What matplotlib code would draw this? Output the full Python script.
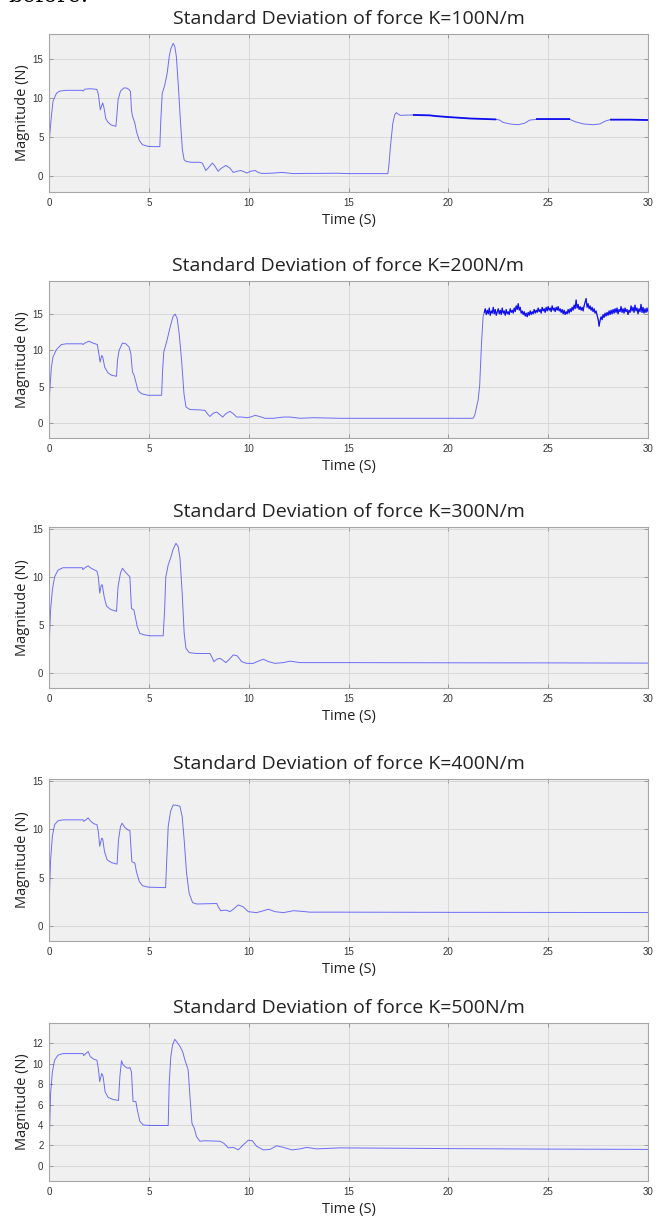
import numpy as np
import matplotlib
matplotlib.use("Agg")
import matplotlib.pyplot as plt

# --- K=100N/m ---
t_k100 = [0, 0.03, 0.12, 0.2, 0.37, 0.53, 0.87, 1.67, 1.7, 1.8, 2.05, 2.3, 2.4, 2.47, 2.57, 2.62,
          2.69, 2.76, 2.84, 2.96, 3.13, 3.35, 3.38, 3.46, 3.58, 3.75, 3.88, 4.01, 4.08, 4.13, 4.18,
          4.3, 4.38, 4.52, 4.68, 4.97, 5.3, 5.55, 5.6, 5.67, 5.8, 5.92, 6.02, 6.1, 6.22, 6.3, 6.38,
          6.48, 6.58, 6.68, 6.77, 6.88, 7.13, 7.55, 7.68, 7.85, 7.97, 8.18, 8.3, 8.47, 8.64, 8.86,
          9.06, 9.23, 9.43, 9.6, 9.76, 9.9, 10.1, 10.32, 10.48, 10.65, 10.9, 11.23, 11.65, 11.9,
          12.23, 12.9, 13.57, 14.4, 15.0, 16.97, 17.02, 17.1, 17.22, 17.32, 17.39, 17.47, 17.59,
          18.23, 19.06, 19.4, 20.07, 21.07, 22.4, 22.57, 22.74, 23.08, 23.49, 23.83, 24.08, 24.41,
          26.09, 26.34, 26.76, 27.26, 27.59, 27.84, 28.1, 29.1, 30.0]
f_k100 = [0, 5.1, 7.7, 9.6, 10.6, 10.9, 11.0, 11.0, 10.9, 11.15, 11.2, 11.15, 11.1, 10.5, 8.5, 8.9,
          9.4, 8.7, 7.4, 6.9, 6.55, 6.4, 7.2, 9.8, 10.9, 11.3, 11.3, 11.1, 10.85, 8.5, 7.7,
          6.8, 5.75, 4.6, 4.05, 3.83, 3.8, 3.8, 7.2, 10.6, 11.7, 13.2, 15.3, 16.3, 17.0, 16.6, 15.3,
          11.5, 7.2, 3.4, 2.1, 1.9, 1.8, 1.8, 1.7, 0.75, 1.05, 1.7, 1.35, 0.65, 1.05, 1.4,
          1.05, 0.5, 0.65, 0.75, 0.6, 0.42, 0.65, 0.75, 0.5, 0.38, 0.38, 0.42, 0.5, 0.45,
          0.35, 0.38, 0.38, 0.4, 0.35, 0.35, 1.3, 3.8, 6.8, 7.9, 8.15, 8.0, 7.8,
          7.85, 7.8, 7.7, 7.57, 7.4, 7.28, 7.2, 6.9, 6.7, 6.6, 6.8, 7.2, 7.28,
          7.28, 7.0, 6.7, 6.6, 6.7, 7.05, 7.25, 7.25, 7.2]
dense_k100 = [(17.6, 22.5), (24.2, 26.1), (28.0, 30.0)]

# --- K=200N/m ---
t_k200 = [0, 0.03, 0.12, 0.2, 0.37, 0.62, 0.87, 1.67, 1.7, 1.8, 2.0, 2.2, 2.42, 2.47, 2.56, 2.64,
          2.69, 2.79, 2.96, 3.13, 3.38, 3.43, 3.51, 3.68, 3.85, 4.01, 4.1, 4.18, 4.26, 4.35, 4.46,
          4.63, 4.97, 5.64, 5.69, 5.75, 5.89, 5.97, 6.09, 6.22, 6.32, 6.42, 6.52, 6.64, 6.76, 6.86,
          7.06, 7.56, 7.81, 7.93, 8.06, 8.23, 8.4, 8.53, 8.7, 8.86, 9.06, 9.23, 9.4, 9.65, 9.9,
          10.1, 10.32, 10.48, 10.82, 11.24, 11.74, 12.07, 12.58, 13.24, 14.58, 21.24, 21.32,
          21.49, 21.57, 21.66, 21.74]
f_k200 = [0, 4.1, 7.7, 9.1, 10.1, 10.8, 10.9, 10.9, 10.8, 11.0, 11.25, 11.0, 10.8, 10.0, 8.4, 9.3,
          9.1, 7.7, 6.9, 6.6, 6.45, 8.65, 10.0, 11.0, 10.9, 10.45, 9.55, 7.05, 6.6, 5.65, 4.5,
          4.07, 3.85, 3.85, 7.3, 9.8, 11.15, 12.05, 13.45, 14.7, 14.95, 14.35, 12.3, 8.65, 4.05, 2.25,
          1.9, 1.85, 1.78, 1.33, 0.95, 1.4, 1.55, 1.25, 0.87, 1.33, 1.65, 1.33, 0.87, 0.87, 0.78,
          0.87, 1.1, 1.0, 0.7, 0.7, 0.87, 0.87, 0.7, 0.78, 0.7, 0.7, 1.1,
          3.15, 5.2, 10.9, 14.6]
# noisy plateau after the jump (one reading every 0.05 s from 21.8 s)
noise_t0, noise_dt = 21.8, 0.05
noise_k200 = [15.2, 15.7, 14.9, 15.5, 15.0, 15.8, 14.8, 15.4, 15.1, 15.9,
              15.0, 15.6, 14.8, 15.3, 15.7, 15.0, 15.5, 14.9, 15.8, 15.1,
              15.4, 14.8, 15.6, 15.0, 15.3, 14.9, 15.7, 15.2, 15.5, 15.1,
              15.8, 15.3, 16.1, 15.6, 16.4, 15.5, 15.9, 15.1, 15.4, 14.9,
              15.3, 14.7, 15.1, 14.6, 15.2, 14.8, 15.4, 14.9, 15.3, 15.0,
              15.6, 15.1, 15.5, 15.2, 15.8, 15.3, 15.6, 15.1, 15.9, 15.4,
              15.7, 15.2, 15.9, 15.4, 16.0, 15.5, 15.8, 15.3, 16.1, 15.5,
              15.8, 15.3, 15.9, 15.5, 16.0, 15.4, 15.7, 15.2, 15.6, 15.0,
              15.5, 14.9, 15.3, 15.0, 15.6, 15.1, 15.7, 15.3, 15.9, 15.5,
              16.2, 15.7, 16.9, 15.8, 16.3, 15.6, 16.0, 15.5, 15.9, 15.4,
              16.1, 16.6, 17.1, 15.9, 16.4, 15.7, 16.1, 15.5, 15.9, 15.3,
              15.7, 15.1, 15.4, 14.8, 14.3, 13.3, 14.1, 14.6, 14.2, 14.9,
              14.5, 15.1, 14.7, 15.2, 14.8, 15.4, 14.9, 15.5, 15.0, 15.6,
              15.1, 15.7, 15.2, 15.8, 15.0, 15.6, 15.3, 16.0, 15.2, 15.7,
              15.1, 15.8, 15.3, 15.6, 14.9, 15.5, 15.2, 16.1, 15.4, 15.9,
              15.2, 16.2, 15.4, 15.8, 15.0, 15.7, 15.3, 16.3, 15.2, 15.9,
              15.1, 15.7, 15.2, 15.8, 15.3]

# --- K=300N/m ---
t_k300 = [0, 0.03, 0.08, 0.17, 0.28, 0.45, 0.7, 1.67, 1.7, 1.8, 1.96, 2.07, 2.2, 2.4, 2.47, 2.54,
          2.62, 2.67, 2.76, 2.88, 3.08, 3.38, 3.46, 3.58, 3.68, 3.8, 3.96, 4.05, 4.13, 4.25, 4.32,
          4.42, 4.55, 4.75, 5.05, 5.72, 5.79, 5.85, 5.97, 6.09, 6.22, 6.36, 6.47, 6.56, 6.67, 6.77,
          6.86, 7.02, 7.39, 8.06, 8.15, 8.26, 8.4, 8.56, 8.7, 8.86, 9.03, 9.23, 9.43, 9.65, 9.9,
          10.23, 10.48, 10.74, 10.99, 11.32, 11.74, 12.07, 12.58, 13.24, 14.58, 20.0, 25.0, 30.0]
f_k300 = [0, 4.1, 6.55, 8.65, 10.0, 10.7, 10.95, 10.95, 10.75, 10.95, 11.15, 10.95, 10.8, 10.6, 10.0, 8.3,
          9.15, 9.15, 7.95, 6.95, 6.6, 6.4, 9.0, 10.4, 10.9, 10.55, 10.2, 10.0, 6.7, 6.55, 5.85,
          4.8, 4.1, 3.95, 3.85, 3.85, 6.55, 10.0, 11.25, 11.95, 12.9, 13.5, 13.15, 11.95, 8.3, 4.1,
          2.55, 2.1, 2.0, 2.0, 1.65, 1.15, 1.4, 1.5, 1.3, 1.05, 1.4, 1.85, 1.75, 1.15, 0.97,
          0.97, 1.2, 1.4, 1.15, 0.97, 1.05, 1.2, 1.05, 1.05, 1.05, 1.03, 1.02, 1.0]

# --- K=400N/m ---
t_k400 = [0, 0.03, 0.08, 0.17, 0.28, 0.45, 0.7, 1.7, 1.74, 1.84, 1.96, 2.07, 2.24, 2.4, 2.47, 2.54,
          2.64, 2.69, 2.78, 2.91, 3.13, 3.41, 3.48, 3.58, 3.66, 3.8, 3.96, 4.05, 4.15, 4.3, 4.38,
          4.52, 4.68, 4.97, 5.84, 5.89, 5.97, 6.09, 6.22, 6.42, 6.56, 6.67, 6.77, 6.89, 7.02, 7.19,
          7.39, 8.4, 8.48, 8.6, 8.76, 8.9, 9.06, 9.23, 9.48, 9.73, 9.98, 10.4, 10.74, 10.99, 11.32,
          11.74, 12.24, 12.58, 13.08, 13.74, 14.58, 20.0, 25.0, 30.0]
f_k400 = [0, 3.7, 6.85, 9.3, 10.5, 10.9, 11.0, 11.0, 10.85, 11.0, 11.2, 10.9, 10.6, 10.5, 9.8, 8.25,
          9.1, 9.0, 7.7, 6.85, 6.55, 6.4, 8.9, 10.3, 10.65, 10.2, 9.95, 9.9, 6.65, 6.5, 5.6,
          4.6, 4.15, 4.0, 3.95, 6.5, 10.3, 11.9, 12.55, 12.5, 12.4, 11.35, 8.9, 5.45, 3.35, 2.4,
          2.25, 2.3, 1.95, 1.55, 1.6, 1.6, 1.45, 1.7, 2.15, 1.95, 1.45, 1.35, 1.55, 1.7, 1.45,
          1.35, 1.55, 1.5, 1.4, 1.4, 1.4, 1.38, 1.37, 1.36]

# --- K=500N/m ---
t_k500 = [0, 0.03, 0.08, 0.17, 0.28, 0.45, 0.7, 1.7, 1.74, 1.84, 1.96, 2.07, 2.24, 2.4, 2.47, 2.54,
          2.64, 2.71, 2.81, 2.96, 3.21, 3.48, 3.55, 3.63, 3.71, 3.85, 3.96, 4.05, 4.13, 4.21, 4.35,
          4.42, 4.55, 4.72, 5.05, 5.97, 6.02, 6.1, 6.19, 6.3, 6.42, 6.56, 6.69, 6.81, 6.89, 6.97,
          7.06, 7.16, 7.27, 7.39, 7.56, 7.81, 8.56, 8.76, 8.98, 9.23, 9.48, 9.73, 9.98, 10.18, 10.4,
          10.74, 11.07, 11.4, 11.74, 12.16, 12.58, 12.91, 13.41, 13.99, 14.58, 20.0, 25.0, 30.0]
f_k500 = [0, 3.5, 7.1, 9.2, 10.35, 10.85, 11.0, 11.0, 10.8, 11.0, 11.2, 10.7, 10.45, 10.35, 9.55, 8.25,
          9.05, 8.75, 7.25, 6.7, 6.5, 6.4, 8.75, 10.3, 9.9, 9.65, 9.55, 9.65, 9.2, 6.3, 6.3,
          5.5, 4.35, 4.0, 3.95, 3.95, 8.1, 10.7, 11.85, 12.4, 12.1, 11.7, 11.2, 10.35, 9.9, 9.4,
          6.8, 4.15, 3.7, 2.85, 2.4, 2.45, 2.4, 2.2, 1.75, 1.8, 1.55, 2.05, 2.5, 2.45, 1.9,
          1.55, 1.6, 1.95, 1.8, 1.55, 1.65, 1.8, 1.65, 1.7, 1.75, 1.68, 1.63, 1.6]

titles = ["Standard Deviation of force K=100N/m", "Standard Deviation of force K=200N/m",
          "Standard Deviation of force K=300N/m", "Standard Deviation of force K=400N/m",
          "Standard Deviation of force K=500N/m"]

# noisy part of K=200 joined to the smooth part
t_noise = noise_t0 + noise_dt * np.arange(len(noise_k200))
t200_all = np.concatenate([t_k200, t_noise])
f200_all = np.concatenate([f_k200, noise_k200])

series = [(t_k100, f_k100), (t200_all, f200_all), (t_k300, f_k300), (t_k400, f_k400), (t_k500, f_k500)]
ylims = [(-2, 18.2), (-2, 19.5), (-1.6, 15.2), (-1.6, 15.25), (-1.5, 14)]
yticks = [[0, 5, 10, 15]] * 4 + [[0, 2, 4, 6, 8, 10, 12]]

# axes boxes in figure pixels (top, bottom)
W, H = 672, 1224
boxes = [(34, 192), (281, 438), (527, 688), (779, 941), (1023, 1181)]
left_px, right_px = 49, 648

title_font = ["Open Sans", "DejaVu Sans"]
tick_font = ["Liberation Sans", "DejaVu Sans"]

fig = plt.figure(figsize=(W / 100, H / 100), dpi=100)
fig.patch.set_facecolor("white")

# clipped line of body text above the first chart
fig.text(8 / W, 1 - 1.5 / H, "before.", family="DejaVu Serif", fontsize=16,
         va="baseline", ha="left", color="black")

for i, ((t, f), title) in enumerate(zip(series, titles)):
    top, bot = boxes[i]
    ax = fig.add_axes([left_px / W, 1 - bot / H, (right_px - left_px) / W, (bot - top) / H])
    ax.set_facecolor("#f0f0f0")
    ax.plot(t, f, color="#0000ff", lw=0.7, alpha=0.55)
    if i == 0:
        t_arr, f_arr = np.asarray(t), np.asarray(f)
        for a, b in dense_k100:
            m = (t_arr >= a) & (t_arr <= b)
            ax.plot(t_arr[m], f_arr[m], color="#0000ee", lw=1.3, alpha=0.9,
                    solid_capstyle="butt")
    if i == 1:
        ax.plot(t_noise, noise_k200, color="#0000ee", lw=0.8, alpha=0.9)
    ax.set_xlim(0, 30)
    ax.set_ylim(*ylims[i])
    ax.set_xticks([0, 5, 10, 15, 20, 25, 30])
    ax.set_yticks(yticks[i])
    ax.grid(True, color="#d4d4d4", lw=0.6)
    ax.set_axisbelow(True)
    for s in ax.spines.values():
        s.set_color("#a6a6a6")
        s.set_linewidth(0.8)
    ax.tick_params(direction="in", length=3, width=0.6, color="#8c8c8c",
                   top=True, right=True, labelsize=7, labelcolor="#333333", pad=4)
    for lab in ax.get_xticklabels() + ax.get_yticklabels():
        lab.set_family(tick_font)
    ax.set_title(title, family=title_font, fontsize=14, color="#222222", pad=7)
    ax.set_xlabel("Time (S)", family=title_font, fontsize=10.5, color="#222222", labelpad=4)
    ax.set_ylabel("Magnitude (N)", family=title_font, fontsize=10.5, color="#222222", labelpad=2)

fig.savefig("out.png", dpi=100)
